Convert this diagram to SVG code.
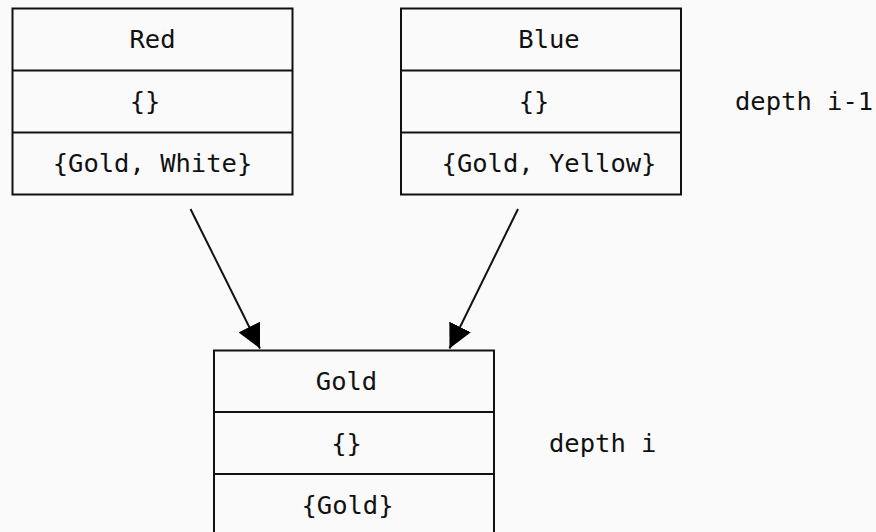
<svg xmlns="http://www.w3.org/2000/svg" width="876" height="532" viewBox="0 0 876 532">
<style>
.box{fill:none;stroke:#111;stroke-width:2}
.t{font-family:"DejaVu Sans Mono","Liberation Mono",monospace;font-size:25.5px;fill:#111;text-anchor:middle}
.l{font-family:"DejaVu Sans Mono","Liberation Mono",monospace;font-size:25.5px;fill:#111}
.edge{fill:none;stroke:#111;stroke-width:2}
</style>
<defs>
<marker id="ah" markerUnits="userSpaceOnUse" markerWidth="24" markerHeight="24" viewBox="0 0 22 22" refX="22" refY="11" orient="auto">
<path d="M0,0 L22,11 L0,22 Z" fill="#000"/>
</marker>
</defs>
<rect width="876" height="532" fill="#fafafa"/>
<g id="red">
<rect class="box" x="12.5" y="8.5" width="280" height="186"/>
<line class="box" x1="12.5" y1="70.5" x2="292.5" y2="70.5"/>
<line class="box" x1="12.5" y1="132.5" x2="292.5" y2="132.5"/>
<text class="t" x="152.5" y="48">Red</text>
<text class="t" x="145" y="110">{}</text>
<text class="t" x="152.5" y="172">{Gold, White}</text>
</g>
<g id="blue">
<rect class="box" x="401" y="8.5" width="280" height="186"/>
<line class="box" x1="401" y1="70.5" x2="681" y2="70.5"/>
<line class="box" x1="401" y1="132.5" x2="681" y2="132.5"/>
<text class="t" x="549" y="48">Blue</text>
<text class="t" x="534" y="110">{}</text>
<text class="t" x="549" y="172">{Gold, Yellow}</text>
</g>
<g id="gold">
<rect class="box" x="214" y="350.5" width="280" height="186"/>
<line class="box" x1="214" y1="412" x2="494" y2="412"/>
<line class="box" x1="214" y1="474" x2="494" y2="474"/>
<text class="t" x="346.5" y="390">Gold</text>
<text class="t" x="346.5" y="451.5">{}</text>
<text class="t" x="347.5" y="513.5">{Gold}</text>
</g>
<g id="labels">
<text class="l" x="735" y="110">depth i-1</text>
<text class="l" x="549" y="451.5">depth i</text>
</g>
<g id="connectors">
<line class="edge" x1="190.5" y1="209" x2="260" y2="348.5" marker-end="url(#ah)"/>
<line class="edge" x1="518" y1="209" x2="449.5" y2="348.5" marker-end="url(#ah)"/>
</g>
</svg>
